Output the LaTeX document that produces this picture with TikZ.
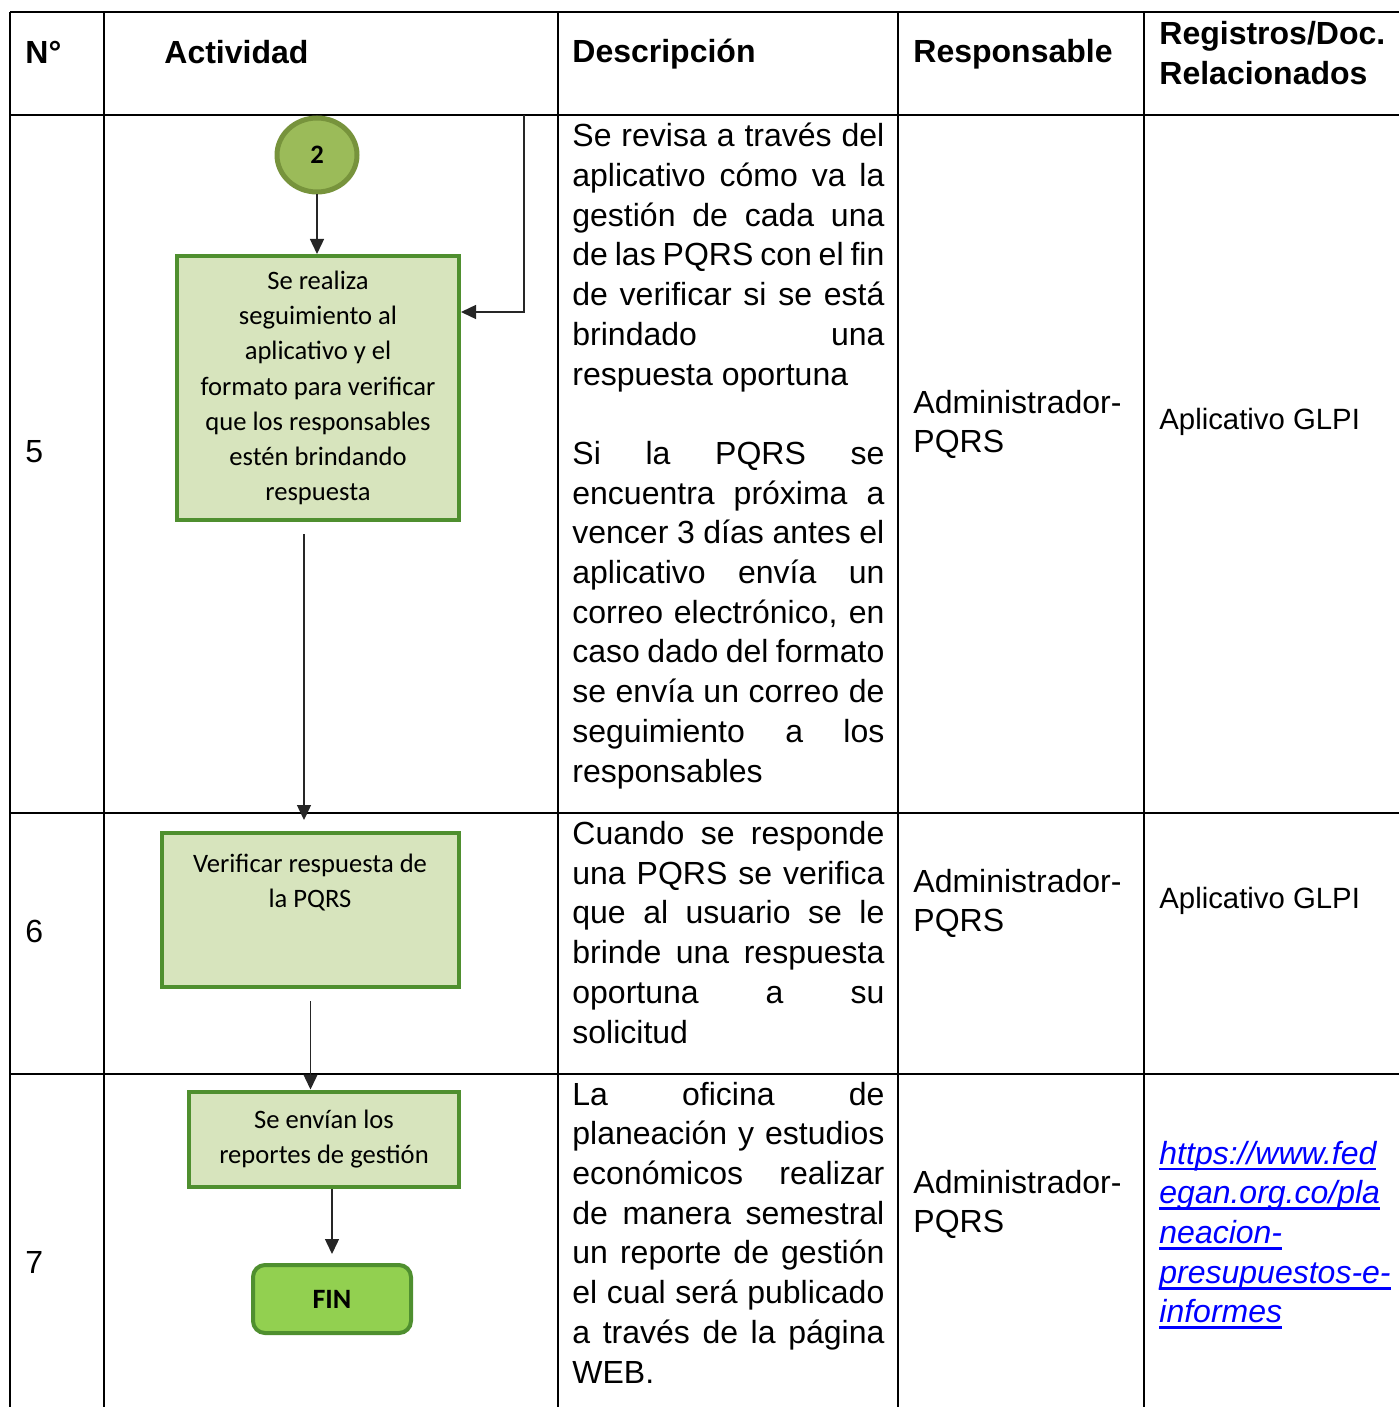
\documentclass[tikz,border=0pt]{standalone}
\usepackage{fontspec}
\setmainfont{Liberation Sans}
\newfontfamily\calibri{Carlito}
\usetikzlibrary{arrows.meta, shapes.geometric}

\definecolor{oliveFill}{HTML}{9BBB59}
\definecolor{oliveLine}{HTML}{77933C}
\definecolor{actFill}{HTML}{D7E4BD}
\definecolor{actLine}{HTML}{4F8F2F}
\definecolor{finFill}{HTML}{92D050}
\definecolor{linkBlue}{HTML}{0000FF}

\newsavebox{\lnkbox}
\newcommand{\lnk}[1]{\sbox{\lnkbox}{#1}\rlap{\rule[-3.2pt]{\wd\lnkbox}{1.4pt}}\usebox{\lnkbox}}
\newcommand{\jl}[1]{\makebox[156pt][s]{#1}}

\begin{document}
\begin{tikzpicture}[x=0.5pt, y=-0.5pt, >={Triangle[width=7pt,length=7.5pt]},
    rule/.style={line width=1.4pt, black},
    head/.style={font=\fontsize{16}{19.85}\selectfont\bfseries, anchor=west, inner sep=0pt, align=left},
    body/.style={font=\fontsize{16}{19.85}\selectfont, inner sep=0pt, align=left},
    small/.style={font=\fontsize{14.67}{18}\selectfont, inner sep=0pt, align=left},
    actbox/.style={draw=actLine, fill=actFill, line width=2pt, inner sep=0pt,
        font=\calibri\fontsize{13.3}{17.6}\selectfont, align=center},
    flow/.style={->, line width=0.7pt, black!85}]

\useasboundingbox (0,0) rectangle (1399,1407);

% Table grid
\draw[rule] (10,12) -- (1399,12);
\foreach \y in {115,813,1074}
    \draw[rule] (10,\y) -- (1399,\y);
\foreach \x in {10,104,558,898,1144}
    \draw[rule] (\x,12) -- (\x,1407);

% Header
\node[head] (hNum) at (25,52) {N°};
\node[head] (hAct) at (164,52) {Actividad};
\node[head] (hDesc) at (572,54) {Descripción};
\node[head] (hResp) at (913,54) {Responsable};
\node[head] (hReg) at (1159,53) {Registros/Doc.\\Relacionados};

% Row numbers
\node[body, anchor=west] (n5) at (25,452) {5};
\node[body, anchor=west] (n6) at (25,931) {6};
\node[body, anchor=west] (n7) at (25,1262) {7};

% Descriptions (base = last line)
\node[body, anchor=base west] (d5) at (572,782) {%
    \jl{Se revisa a través del}\\
    \jl{aplicativo cómo va la}\\
    \jl{gestión de cada una}\\
    \jl{de las PQRS con el fin}\\
    \jl{de verificar si se está}\\
    \jl{brindado una}\\
    respuesta oportuna\\[19.85pt]
    \jl{Si la PQRS se}\\
    \jl{encuentra próxima a}\\
    \jl{vencer 3 días antes el}\\
    \jl{aplicativo envía un}\\
    \jl{correo electrónico, en}\\
    \jl{caso dado del formato}\\
    \jl{se envía un correo de}\\
    \jl{seguimiento a los}\\
    responsables};
\node[body, anchor=base west] (d6) at (572,1043) {%
    \jl{Cuando se responde}\\
    \jl{una PQRS se verifica}\\
    \jl{que al usuario se le}\\
    \jl{brinde una respuesta}\\
    \jl{oportuna a su}\\
    solicitud};
\node[body, anchor=base west] (d7) at (572,1383) {%
    \jl{La oficina de}\\
    \jl{planeación y estudios}\\
    \jl{económicos realizar}\\
    \jl{de manera semestral}\\
    \jl{un reporte de gestión}\\
    \jl{el cual será publicado}\\
    \jl{a través de la página}\\
    WEB.};

% Responsable and records
\node[body, anchor=west] (r5) at (913,424.5) {Administrador-\\PQRS};
\node[body, anchor=west] (r6) at (913,903.5) {Administrador-\\PQRS};
\node[body, anchor=west] (r7) at (913,1204.5) {Administrador-\\PQRS};
\node[small, anchor=west] (g5) at (1159,422) {Aplicativo GLPI};
\node[small, anchor=west] (g6) at (1159,901) {Aplicativo GLPI};
\node[body, anchor=west, text=linkBlue, font=\fontsize{16}{19.85}\selectfont\itshape] (g7) at (1159,1235)
    {\lnk{https://www.fed}\\\lnk{egan.org.co/pla}\\\lnk{neacion-}\\\lnk{presupuestos-e-}\\\lnk{informes}};

% Flow chart
\node[ellipse, draw=oliveLine, fill=oliveFill, line width=2.5pt, minimum width=40pt, minimum height=37pt,
    inner sep=0pt, font=\calibri\fontsize{13.3}{16}\selectfont\bfseries] (c2) at (317,155) {2};
\node[actbox, minimum width=141pt, minimum height=132pt] (act5) at (318,388)
    {Se realiza\\seguimiento al\\aplicativo y el\\formato para verificar\\que los responsables\\estén brindando\\respuesta};
\node[actbox, minimum width=148.5pt, minimum height=77pt] (act6) at (310.5,910) {};
\node[font=\calibri\fontsize{13.3}{17.6}\selectfont, align=center, inner sep=0pt] (act6txt) at (310,882.5)
    {Verificar respuesta de\\la PQRS};
\node[actbox, minimum width=135pt, minimum height=47.5pt] (act7) at (324,1139)
    {Se envían los\\reportes de gestión};
\node[draw=actLine, fill=finFill, line width=2pt, rounded corners=6pt, minimum width=79pt, minimum height=34pt,
    inner sep=0pt, font=\calibri\fontsize{14}{16}\selectfont\bfseries] (fin) at (332,1299) {FIN};

% Connectors
\coordinate (loopTop) at (524,115);
\coordinate (loopTurn) at (524,312);
\draw[flow] (c2.south) -- (c2.south |- act5.north);
\draw[flow] (loopTop) -- (loopTurn) -- (loopTurn -| act5.east);
\draw[flow, shorten <=6pt, shorten >=5.5pt] ([xshift=-7pt]act5.south) -- ([xshift=-7pt]act5.south |- act6.north);
\draw[flow, shorten <=6pt] (act6.south) -- (act6.south |- act7.north);
\draw[flow, shorten >=4.5pt] (fin.north |- act7.south) -- (fin.north);

\end{tikzpicture}
\end{document}
